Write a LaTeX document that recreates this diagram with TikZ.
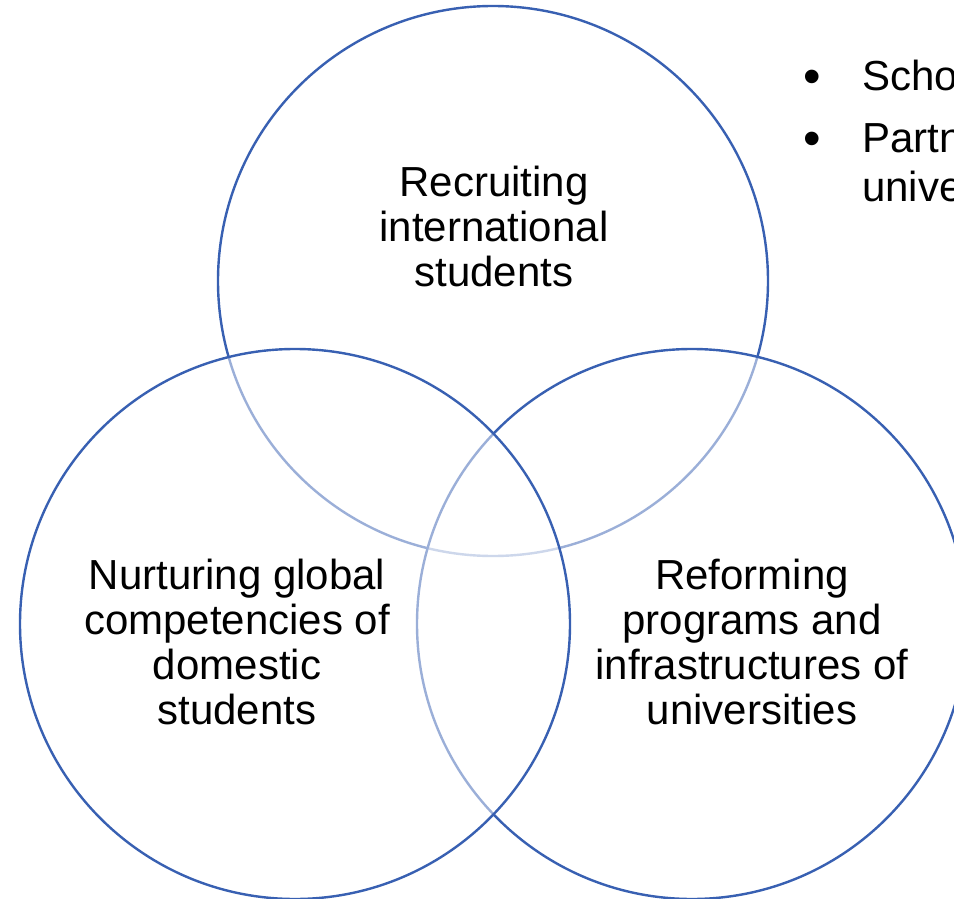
\documentclass[tikz,border=0pt]{standalone}
\usepackage{fontspec}
\setmainfont{Liberation Sans}
\definecolor{vennblue}{RGB}{56,96,178}
\tikzset{
  venn/.style={draw=vennblue, line width=2.4pt, fill=white, fill opacity=0.5},
  lbl/.style={align=center, font=\fontsize{42}{45}\selectfont, inner sep=0pt, text=black},
  bultxt/.style={anchor=base west, font=\fontsize{42}{50}\selectfont, inner sep=0pt, text=black},
  bulmark/.style={anchor=base, font=\fontsize{50}{50}\selectfont, inner sep=0pt, text=black}
}
\begin{document}
\begin{tikzpicture}[x=1pt,y=-1pt]
\useasboundingbox (0,0) rectangle (954,899);
\path[fill=white] (0,0) rectangle (954,899);
% circles: top, right, left (drawing order as in the reference)
\draw[venn] (493,281) circle[radius=275];
\draw[venn] (692,624) circle[radius=275];
\draw[venn] (295,624) circle[radius=275];
% labels
\node[lbl] (ttop) at (494,226) {Recruiting\\international\\students};
\node[lbl] (tleft) at (237,642) {Nurturing global\\competencies of\\domestic\\students};
\node[lbl] (tright) at (752,642) {Reforming\\programs and\\infrastructures of\\universities};
% bullet list (cut off at the right edge, as in the reference)
\node[bulmark] (b1) at (812,93) {•};
\node[bultxt] (l1) at (862,91) {Scho};
\node[bulmark] (b2) at (812,155) {•};
\node[bultxt] (l2) at (862,153) {Partn};
\node[bultxt] (l3) at (862,201) {unive};
\end{tikzpicture}
\end{document}
